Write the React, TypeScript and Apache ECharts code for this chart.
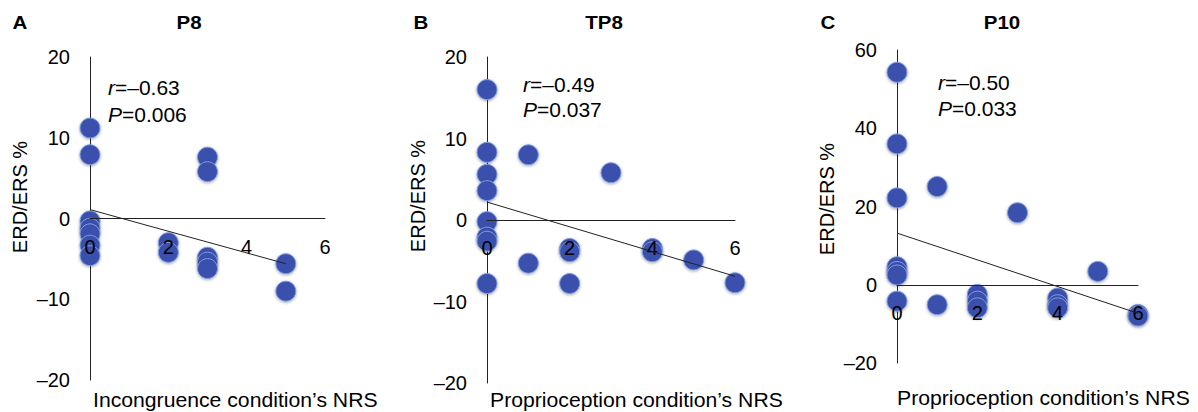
import React, { useEffect, useRef } from "react";
import * as echarts from "echarts";

// Panel A (P8) – Incongruence condition
const xA = [0, 0, 0, 0, 0, 0, 0, 2, 2, 3, 3, 3, 3, 3, 5, 5];
const yA = [11.2, 7.9, -0.3, -1.2, -1.9, -3.3, -4.6, -3.0, -4.2, 7.6, 5.8, -4.8, -5.4, -6.2, -5.6, -9.0];
const trendA = [[0, 1.1], [5, -5.6]];

// Panel B (TP8) – Proprioception condition
const xB = [0, 0, 0, 0, 0, 0, 0, 0, 1, 1, 2, 2, 2, 3, 4, 4, 5, 6];
const yB = [16, 8.3, 5.6, 3.6, -0.2, -2.1, -2.6, -7.8, 8.0, -5.3, -3.5, -3.9, -7.8, 5.8, -3.5, -3.9, -4.9, -7.7];
const trendB = [[0, 2.2], [6, -6.9]];

// Panel C (P10) – Proprioception condition
const xC = [0, 0, 0, 0, 0, 0, 0, 1, 1, 2, 2, 2, 3, 4, 4, 4, 5, 6, 6];
const yC = [54.3, 36, 22.2, 4.6, 3.4, 2.5, -4.2, 25.1, -5.1, -2.5, -4.2, -5.9, 18.4, -3.4, -5.1, -5.9, 3.4, -7.6, -8.0];
const trendC = [[0, 13.2], [6, -7.3]];

const panelLetters = ["A", "B", "C"];
const panelTitles = ["P8", "TP8", "P10"];
const xNames = ["Incongruence condition\u2019s NRS", "Proprioception condition\u2019s NRS", "Proprioception condition\u2019s NRS"];
const yName = "ERD/ERS %";
const rValues = ["\u20130.63", "\u20130.49", "\u20130.50"];
const pValues = ["0.006", "0.037", "0.033"];
const yMins = [-20, -20, -20];
const yMaxs = [20, 20, 60];
const yIntervals = [10, 10, 20];

const FONT = "'Liberation Sans', Arial, Helvetica, sans-serif";

export default function App() {
  const ref = useRef<HTMLDivElement>(null);
  useEffect(() => {
    if (!ref.current) return;
    const chart = echarts.init(ref.current, null, { renderer: "svg" });

    const grids = [
      { left: 90, top: 57, width: 235, height: 323 },
      { left: 487, top: 57, width: 248, height: 326 },
      { left: 897, top: 50, width: 241, height: 313 },
    ];
    const xs = [xA, xB, xC];
    const ys = [yA, yB, yC];
    const trends = [trendA, trendB, trendC];

    const xAxes = grids.map((g, i) => ({
      type: "value",
      gridIndex: i,
      min: 0,
      max: 6,
      interval: 2,
      z: 3,
      position: "bottom",
      // place the x axis where y = 0 (offset measured up from the grid bottom)
      offset: -(g.height * (0 - yMins[i])) / (yMaxs[i] - yMins[i]),
      axisLine: { onZero: false, lineStyle: { color: "#222", width: 1 } },
      axisTick: { show: false },
      splitLine: { show: false },
      axisLabel: { fontSize: 20, color: "#000", margin: 18, fontFamily: FONT },
    }));
    const yAxes = grids.map((_, i) => ({
      type: "value",
      gridIndex: i,
      min: yMins[i],
      max: yMaxs[i],
      interval: yIntervals[i],
      axisLine: { show: true, onZero: false, lineStyle: { color: "#222", width: 1 } },
      axisTick: { show: false },
      splitLine: { show: false },
      axisLabel: {
        fontSize: 20,
        color: "#000",
        margin: 20,
        fontFamily: FONT,
        formatter: (v: number) => String(v).replace("-", "\u2013"),
      },
    }));

    const series: any[] = [];
    grids.forEach((_, i) => {
      series.push({
        type: "scatter",
        xAxisIndex: i,
        yAxisIndex: i,
        symbolSize: 20,
        z: 2,
        itemStyle: {
          color: "#3a4fac",
          opacity: 1,
          borderColor: "#7f9de2",
          borderWidth: 1,
          shadowBlur: 3,
          shadowOffsetY: 1,
          shadowColor: "rgba(0,0,0,0.35)",
        },
        data: xs[i].map((x, k) => [x, ys[i][k]]),
      });
      series.push({
        type: "line",
        xAxisIndex: i,
        yAxisIndex: i,
        symbol: "none",
        z: 4,
        lineStyle: { color: "#222", width: 1 },
        data: trends[i],
      });
    });

    const letterX = [20, 421, 828];
    const titleX = [189, 604, 1002];
    const yNameX = [20, 418, 827];
    const yNameY = [197, 196, 199];
    const xNameX = [93, 490, 897];
    const xNameY = [400, 400, 398];
    const annX = [108, 523, 938];
    const rY = [88, 85, 83];
    const pY = [115, 110, 109];

    const richStyle = {
      i: { fontStyle: "italic", fontSize: 20, fontFamily: FONT, fill: "#000", color: "#000" },
      n: { fontSize: 20, fontFamily: FONT, fill: "#000", color: "#000" },
    };

    const graphic: any[] = [];
    for (let i = 0; i < 3; i++) {
      graphic.push({
        type: "text",
        x: letterX[i],
        y: 22,
        scaleX: 1.08,
        style: { text: panelLetters[i], font: `bold 19px ${FONT}`, fill: "#000", align: "center", verticalAlign: "middle" },
      });
      graphic.push({
        type: "text",
        x: titleX[i],
        y: 22,
        scaleX: 1.08,
        style: { text: panelTitles[i], font: `bold 19px ${FONT}`, fill: "#000", align: "center", verticalAlign: "middle" },
      });
      graphic.push({
        type: "text",
        x: yNameX[i],
        y: yNameY[i],
        rotation: Math.PI / 2,
        style: { text: yName, font: `20px ${FONT}`, fill: "#000", align: "center", verticalAlign: "middle" },
      });
      graphic.push({
        type: "text",
        x: xNameX[i],
        y: xNameY[i],
        scaleX: 1.06,
        style: { text: xNames[i], font: `20px ${FONT}`, fill: "#000", align: "left", verticalAlign: "middle" },
      });
      graphic.push({
        type: "text",
        x: annX[i],
        y: rY[i],
        scaleX: 1.05,
        style: { text: `{i|r}{n|=${rValues[i]}}`, align: "left", verticalAlign: "middle", rich: richStyle },
      });
      graphic.push({
        type: "text",
        x: annX[i],
        y: pY[i],
        scaleX: 1.05,
        style: { text: `{i|P}{n|=${pValues[i]}}`, align: "left", verticalAlign: "middle", rich: richStyle },
      });
    }

    chart.setOption({
      animation: false,
      backgroundColor: "#fff",
      textStyle: { fontFamily: FONT },
      grid: grids,
      xAxis: xAxes,
      yAxis: yAxes,
      series,
      graphic,
    });
    return () => chart.dispose();
  }, []);

  return (
    <div
      ref={ref}
      style={{ position: "fixed", left: 0, top: 0, width: 1198, height: 412, background: "#fff" }}
    />
  );
}
